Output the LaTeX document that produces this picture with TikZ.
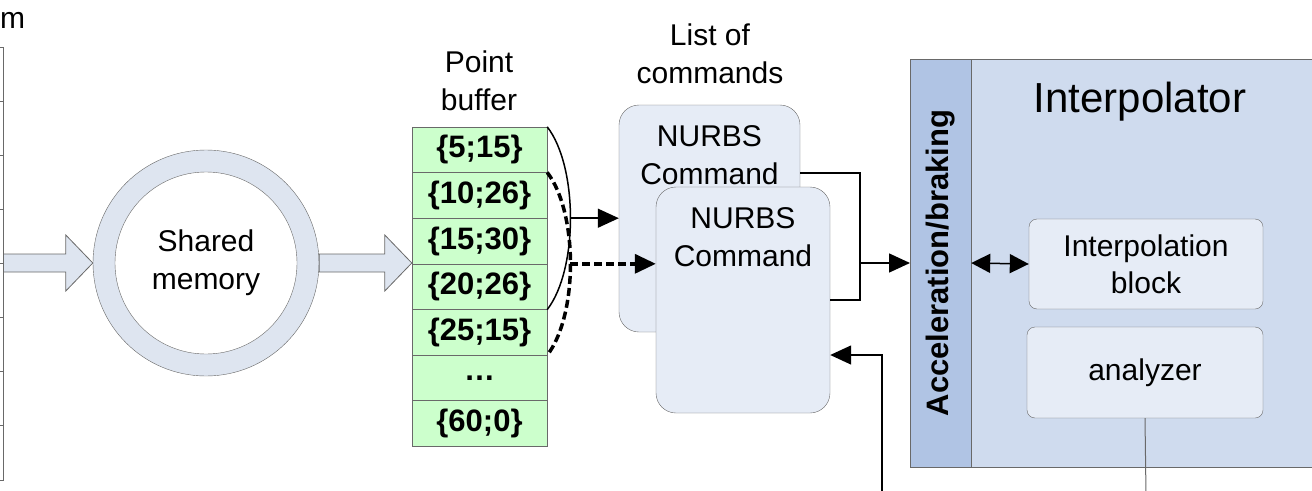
\documentclass[tikz,border=0pt]{standalone}
\usepackage{fontspec}
\setmainfont{Liberation Sans}
\usepackage{tikz}
\usetikzlibrary{arrows.meta,positioning,calc}
\definecolor{bufgreen}{RGB}{204,255,204}
\definecolor{pale}{RGB}{222,229,240}
\definecolor{cmdfill}{RGB}{230,236,246}
\definecolor{interpfill}{RGB}{207,219,238}
\definecolor{stripfill}{RGB}{176,196,228}
\definecolor{edge}{RGB}{105,105,105}
\newcommand{\fatarrow}[2]{%
  \draw[fatarr] ($(#1)+(0,-9)$) -- ($(#2)+(-27,-9)$) -- ($(#2)+(-27,-28)$) -- (#2)
    -- ($(#2)+(-27,28)$) -- ($(#2)+(-27,9)$) -- ($(#1)+(0,9)$) -- cycle;}

\begin{document}
\begin{tikzpicture}[x=1pt, y=-1pt,
  txt/.style={font=\fontsize{30}{38}\selectfont, align=center, inner sep=0pt},
  cell/.style={draw=edge, fill=bufgreen, minimum width=135pt, minimum height=45.6pt,
    inner sep=0pt, font=\fontsize{31}{32}\selectfont\bfseries},
  cmdbox/.style={draw=edge, fill=cmdfill, rounded corners=20pt, inner sep=0pt},
  subbox/.style={draw=edge, fill=cmdfill, rounded corners=8pt, inner sep=0pt,
    align=center, font=\fontsize{30}{37}\selectfont},
  conn/.style={line width=1.5pt},
  dashline/.style={line width=3.5pt, dash pattern=on 8pt off 4pt},
  tip/.style={-{Triangle[length=21pt,width=19pt]}},
  dtip/.style={{Triangle[length=19pt,width=19pt]}-{Triangle[length=19pt,width=19pt]}},
  fatarr/.style={draw=edge, fill=pale, line width=0.8pt}]
  \useasboundingbox (0,0) rectangle (1312,490);
  \clip (0,0) rectangle (1312,490);
  % cut-off table on the left
  \node[font=\fontsize{30}{32}\selectfont, anchor=west, inner sep=0pt] (sysm) at (0,20.5) {m};
  \foreach \k in {0,...,8}
    \draw[edge, line width=0.8pt] (-20,{47+54.125*\k}) -- (3.5,{47+54.125*\k});
  \draw[edge, line width=0.8pt] (3.5,47) -- (3.5,480);
  \coordinate (tabout) at (3.5,263);
  % shared memory
  \node[circle, draw=edge, fill=pale, minimum size=226pt, inner sep=0pt] (mem) at (206,263) {};
  \node[circle, draw=edge, fill=white, minimum size=182pt, txt] (memcore) at (mem) {Shared\\memory};
  \fatarrow{tabout}{mem.west}
  % point buffer
  \node[txt] (buflabel) at (479,81) {Point\\buffer};
  \foreach \val [count=\i] in {\{5;15\}, \{10;26\}, \{15;30\}, \{20;26\}, \{25;15\}, \ldots, \{60;0\}}
    \node[cell] (buf\i) at (479.5,{104.2+45.6*\i}) {\val};
  \coordinate (bufin) at (buf1.west |- mem.east);
  \fatarrow{mem.east}{bufin}
  % point groups
  \draw[conn] (buf1.north east) .. controls +(31,40) and +(31,-40) .. (buf4.south east)
    coordinate[pos=0.5] (solidmid);
  \draw[dashline] (buf2.north east) .. controls +(31,40) and +(31,-40) .. (buf5.south east)
    coordinate[pos=0.5] (dashmid);
  % list of commands
  \node[txt] (cmdlabel) at (710,54) {List of\\commands};
  \node[cmdbox, minimum width=181pt, minimum height=227pt] (cmdback) at (709.5,218.5) {};
  \node[txt] (cmdbacktxt) at ($(cmdback.north)+(0,50)$) {NURBS\\Command};
  \node[cmdbox, minimum width=174pt, minimum height=226pt] (cmdfront) at (743,300) {};
  \node[txt] (cmdfronttxt) at ($(cmdfront.north)+(0,50)$) {NURBS\\Command};
  \draw[conn, tip] (solidmid) -- (solidmid -| cmdback.west);
  \draw[dashline, tip] (dashmid) -- (dashmid -| cmdfront.west);
  % interpolator
  \node[draw=edge, fill=interpfill, minimum width=430pt, minimum height=408pt, inner sep=0pt,
    anchor=north west] (interp) at (910,59) {};
  \node[font=\fontsize{42}{44}\selectfont] (interptitle) at (1140,102) {Interpolator};
  \node[draw=edge, fill=stripfill, rotate=90, minimum width=408pt, minimum height=61pt,
    inner sep=0pt, font=\fontsize{31}{32}\selectfont\bfseries] (accel) at (940.5,263) {Acceleration/braking};
  \node[subbox, minimum width=234pt, minimum height=90pt] (interpblock) at (1146,264) {Interpolation\\block};
  \node[subbox, minimum width=236pt, minimum height=91pt] (analyzer) at (1145,372.5) {analyzer};
  \draw[conn, dtip] (accel.south) -- (interpblock.west);
  \coordinate (anaout) at (1146,495);
  \draw[edge, line width=1pt] (analyzer.south) -- (anaout);
  % command outputs and feedback
  \coordinate (joint) at (860,263);
  \draw[conn] ($(cmdback.east)+(0,-45.5)$) -| (joint) |- (cmdfront.east);
  \draw[conn, tip] (joint) -- (joint -| interp.west);
  \coordinate (feed) at (882,495);
  \draw[conn, tip] (feed) |- ($(cmdfront.east)+(0,55)$);
\end{tikzpicture}
\end{document}
